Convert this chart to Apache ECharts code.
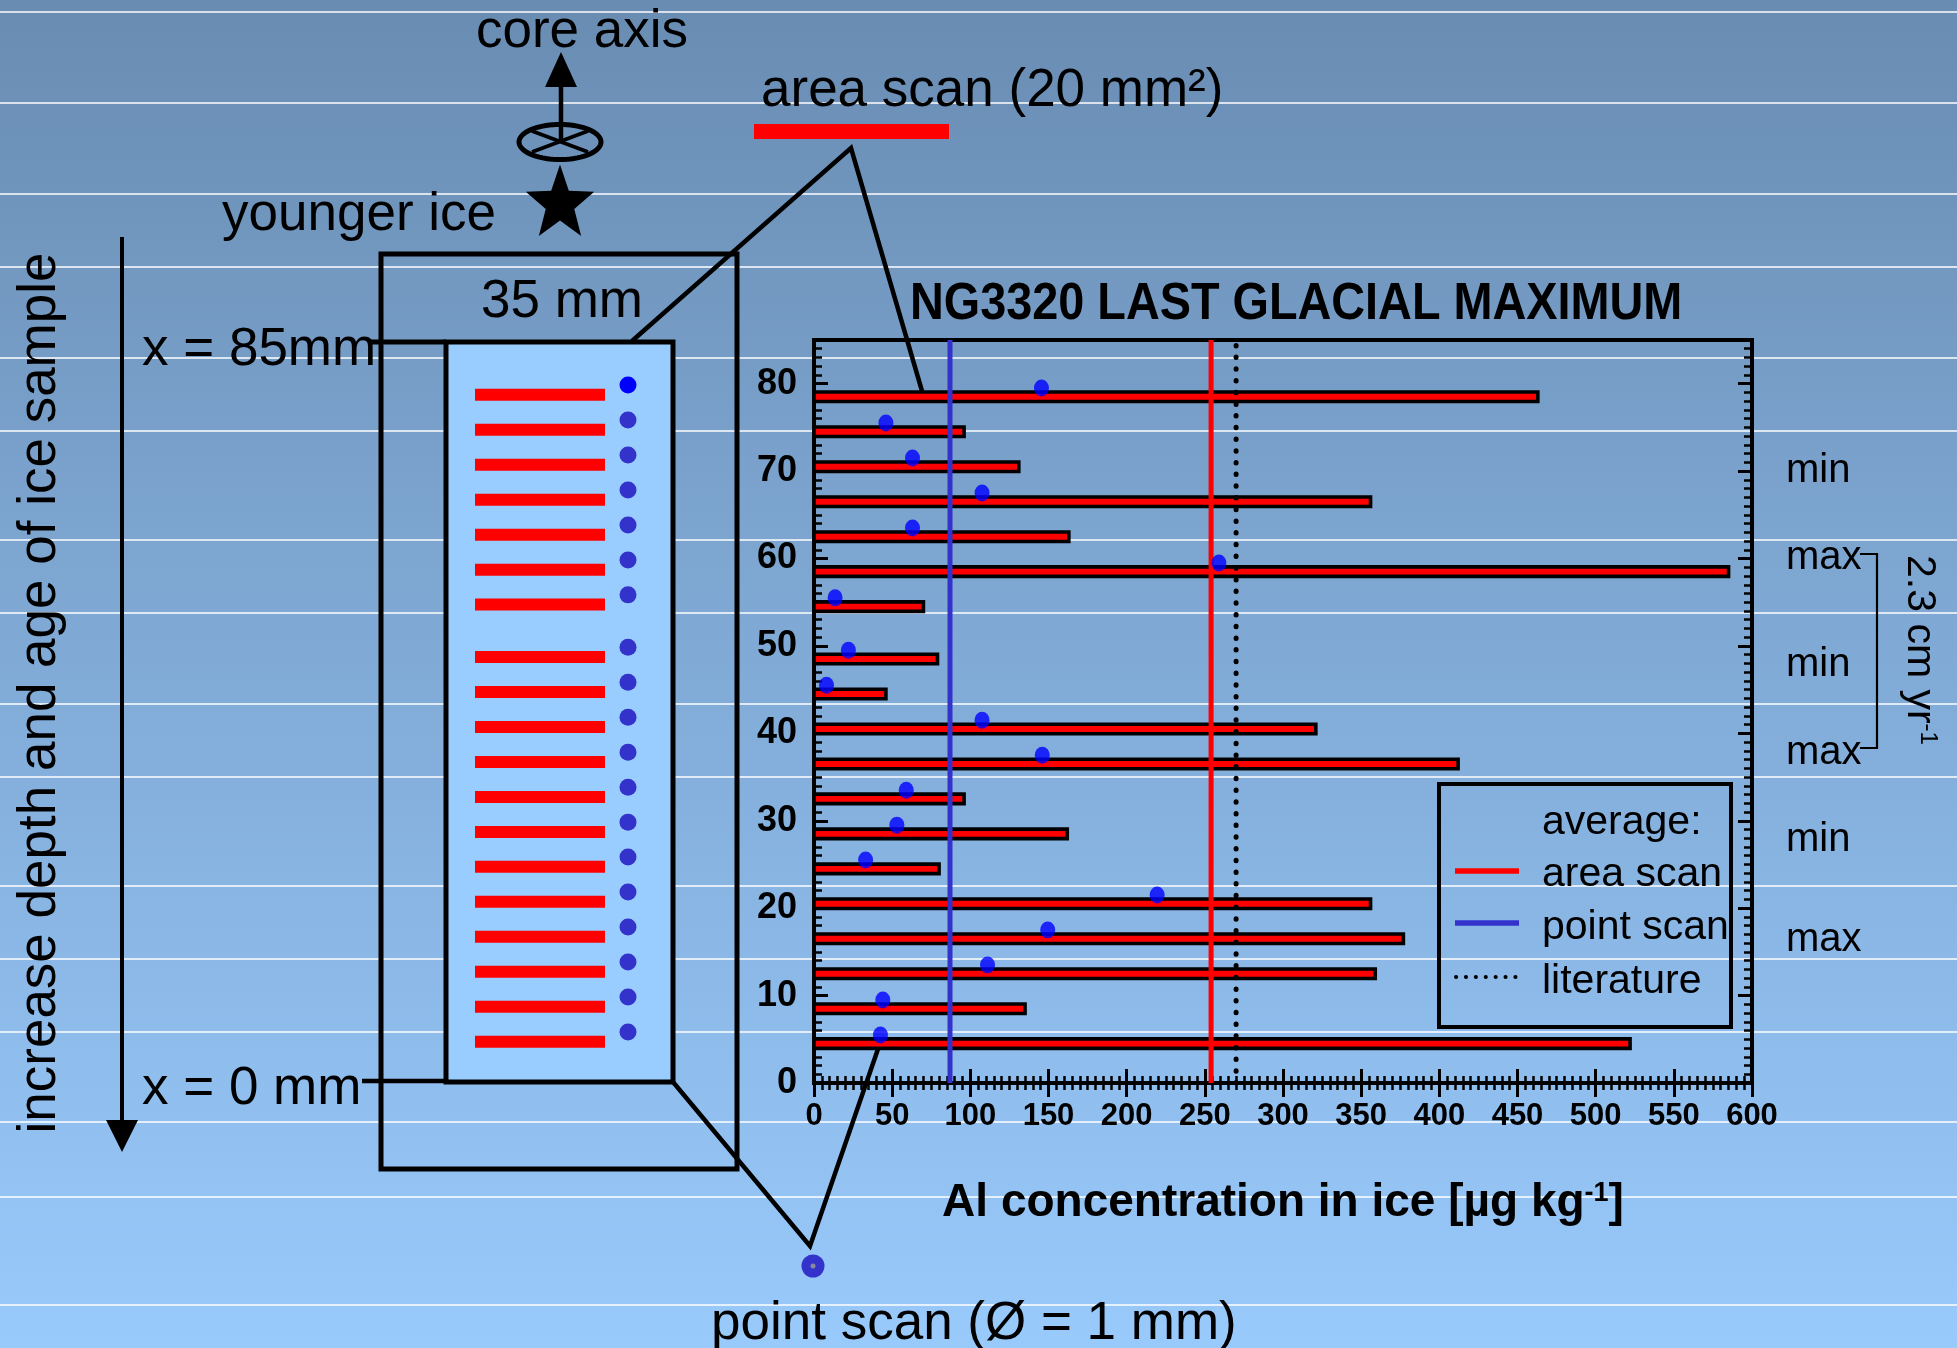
<!DOCTYPE html>
<html>
<head>
<meta charset="utf-8">
<script src="https://cdn.jsdelivr.net/npm/echarts@6/dist/echarts.min.js"></script>
<style>
html,body{margin:0;padding:0;background:#88b4e0;}
#c{width:1957px;height:1348px;}
</style>
</head>
<body>
<div id="c"></div>
<script>
// ---------------- data ----------------
// depth position of each area-scan line (mm along the sample)
const depth = [78.5, 74.5, 70.5, 66.5, 62.5, 58.5, 54.5, 48.5, 44.5, 40.5, 36.5, 32.5, 28.5, 24.5, 20.5, 16.5, 12.5, 8.5, 4.5];
// Al concentration from area scans (µg/kg)
const areaScan = [463, 96, 131, 356, 163, 585, 70, 79, 46, 321, 412, 96, 162, 80, 356, 377, 359, 135, 522];
// depth position of each point scan
const pointDepth = [79.5, 75.5, 71.5, 67.5, 63.5, 59.5, 55.5, 49.5, 45.5, 41.5, 37.5, 33.5, 29.5, 25.5, 21.5, 17.5, 13.5, 9.5, 5.5];
// Al concentration from point scans (µg/kg)
const pointScan = [145.5, 46, 63, 107.5, 63, 259, 13.5, 22, 8, 107.5, 146, 59, 53, 33, 219.5, 149.5, 111, 44, 42.5];
// averages
const avgAreaScan = 254;
const avgPointScan = 87;
const avgLiterature = 270;
// axis settings
const xMin = 0, xMax = 600, xStep = 50;
const yMin = 0, yMax = 85, yStep = 10;
// right-hand annotations
const phaseLabels = ['min', 'max', 'min', 'max', 'min', 'max'];

// ---------------- layout / style constants ----------------
const FONT = '"Liberation Sans", Arial, Helvetica, sans-serif';
const W = 1957, H = 1348;
const BG_LINES = [12, 103, 194, 267, 358, 431, 540, 613, 704, 777, 886, 959, 1032, 1122, 1197, 1305];
const PHASE_Y = [471, 558, 665, 753, 840, 940];
const TXT = 53;

const chart = echarts.init(document.getElementById('c'), null, {renderer: 'canvas', width: W, height: H});

function text(x, y, str, size, extra) {
  const el = {
    type: 'text', x: x, y: y, z: 30, silent: true,
    style: {text: str, fontSize: size, fontFamily: FONT, fill: '#000', align: 'left', verticalAlign: 'middle'}
  };
  if (extra) {
    if (extra.style) Object.assign(el.style, extra.style);
    Object.keys(extra).forEach(k => { if (k !== 'style') el[k] = extra[k]; });
  }
  return el;
}
function line(x1, y1, x2, y2, w, extra) {
  return Object.assign({type: 'line', z: 25, silent: true, shape: {x1, y1, x2, y2},
    style: {stroke: '#000', lineWidth: w || 4.5, lineCap: 'butt'}}, extra || {});
}

const els = [];
// background gradient
els.push({type: 'rect', z: -100, silent: true, shape: {x: 0, y: 0, width: W, height: H},
  style: {fill: new echarts.graphic.LinearGradient(0, 0, 0, 1, [
    {offset: 0, color: '#698cb2'}, {offset: 1, color: '#99cafc'}])}});
BG_LINES.forEach(y => els.push({type: 'line', z: -99, silent: true,
  shape: {x1: 0, y1: y, x2: W, y2: y}, style: {stroke: '#ffffff', lineWidth: 1.6}}));

// left depth arrow + text
els.push(line(122, 237, 122, 1125, 4));
els.push({type: 'polygon', z: 25, silent: true, shape: {points: [[106, 1120], [138, 1120], [122, 1152]]}, style: {fill: '#000'}});
els.push(text(40, 693, 'increase depth and age of ice sample', 53, {rotation: Math.PI / 2, style: {align: 'center'}}));

// core axis symbol
els.push(line(561, 80, 561, 142, 4.5));
els.push({type: 'polygon', z: 25, silent: true, shape: {points: [[545, 87], [577, 87], [561, 52]]}, style: {fill: '#000'}});
(function () {
  const pts = [];
  for (let k = 0; k < 72; k++) {
    const a = k / 72 * Math.PI * 2;
    pts.push([560 + 41 * Math.cos(a), 142 + 17.5 * Math.sin(a)]);
  }
  els.push({type: 'polygon', z: 25, silent: true, shape: {points: pts}, style: {fill: null, stroke: '#000', lineWidth: 5}});
  const star = [];
  for (let k = 0; k < 10; k++) {
    const a = -Math.PI / 2 + k * Math.PI / 5;
    const r = k % 2 === 0 ? 36 : 15;
    star.push([560 + r * Math.cos(a), 204 + r * Math.sin(a) * 1.1]);
  }
  els.push({type: 'polygon', z: 25, silent: true, shape: {points: star}, style: {fill: '#000'}});
})();
els.push(line(532, 152, 588, 131, 4));
els.push(line(532, 131, 588, 152, 4));
els.push(text(582, 32, 'core axis', TXT, {style: {align: 'center'}}));
els.push(text(222, 215, 'younger ice', TXT));

// area scan legend / connector
els.push(text(761, 91, 'area scan (20 mm²)', TXT));
els.push({type: 'rect', z: 25, silent: true, shape: {x: 754, y: 124, width: 195, height: 15}, style: {fill: '#ff0000'}});
els.push({type: 'polyline', z: 25, silent: true, shape: {points: [[632, 341], [851, 148], [922, 391]]},
  style: {stroke: '#000', lineWidth: 4.5, fill: null, lineJoin: 'miter'}});

// sample boxes
els.push({type: 'rect', z: 24, silent: true, shape: {x: 381, y: 254, width: 356, height: 915}, style: {fill: null, stroke: '#000', lineWidth: 5}});
els.push({type: 'rect', z: 1, silent: true, shape: {x: 446, y: 342, width: 227, height: 740}, style: {fill: '#99ccff', stroke: '#000', lineWidth: 5}});
els.push(line(370, 342, 446, 342, 5));
els.push(line(362, 1081, 446, 1081, 4.5));
els.push(text(142, 350, 'x = 85mm', TXT));
els.push(text(142, 1089, 'x = 0 mm', TXT));
els.push(text(562, 302, '35 mm', TXT, {style: {align: 'center'}}));

// point scan connector
els.push({type: 'polyline', z: 25, silent: true, shape: {points: [[673, 1082], [810, 1246], [878, 1049]]},
  style: {stroke: '#000', lineWidth: 4.5, fill: null, lineJoin: 'miter'}});
els.push({type: 'circle', z: 25, silent: true, shape: {cx: 813, cy: 1266, r: 11.5}, style: {fill: '#3333cc'}});
els.push({type: 'circle', z: 26, silent: true, shape: {cx: 813, cy: 1266, r: 2.5}, style: {fill: '#8a8a9a'}});
els.push(text(711, 1324, 'point scan (Ø = 1 mm)', TXT));

// title
els.push(text(910, 305, 'NG3320 LAST GLACIAL MAXIMUM', 52, {scaleX: 0.9, style: {fontWeight: 'bold'}}));

// legend box
els.push({type: 'rect', z: 25, silent: true, shape: {x: 1439, y: 784, width: 292, height: 243}, style: {fill: null, stroke: '#000', lineWidth: 4}});
els.push(text(1542, 823, 'average:', 41));
els.push(text(1542, 875, 'area scan', 41));
els.push(text(1542, 928, 'point scan', 41));
els.push(text(1542, 982, 'literature', 41));
els.push(line(1455, 871, 1519, 871, 5.5, {style: {stroke: '#ff0000', lineWidth: 5.5}}));
els.push(line(1455, 923, 1519, 923, 5.5, {style: {stroke: '#3333cc', lineWidth: 5.5}}));
els.push(line(1456, 977, 1516, 977, 4, {style: {stroke: '#000', lineWidth: 4, lineDash: [0.1, 9.8], lineCap: 'round'}}));

// min / max annotations
phaseLabels.forEach((t, i) => els.push(text(1786, PHASE_Y[i], t, 40)));
els.push({type: 'polyline', z: 25, silent: true, shape: {points: [[1860, 554], [1877, 554], [1877, 748], [1860, 748]]},
  style: {stroke: '#000', lineWidth: 2.2, fill: null}});
els.push({type: 'text', z: 30, silent: true, x: 1919, y: 650, rotation: -Math.PI / 2,
  style: {text: '{n|2.3 cm yr}{s|-1}', align: 'center', verticalAlign: 'middle', fill: '#000',
    rich: {n: {fontSize: 41, fontFamily: FONT, fill: '#000'}, s: {fontSize: 24, fontFamily: FONT, fill: '#000', verticalAlign: 'top'}}}});

// ---------------- axes ----------------
const tickStyle = {color: '#000', width: 3};
const minorStyle = {color: '#000', width: 2.5};
function xAxisDef(pos, withLabels) {
  return {
    type: 'value', gridIndex: 0, position: pos, min: xMin, max: xMax, interval: xStep,
    axisLine: {show: false},
    axisTick: {show: true, inside: true, length: 14, lineStyle: tickStyle},
    minorTick: {show: true, splitNumber: 10, length: 7, lineStyle: minorStyle},
    splitLine: {show: false}, minorSplitLine: {show: false},
    axisLabel: {show: withLabels, fontSize: 31, fontWeight: 'bold', fontFamily: FONT, color: '#000', margin: 18},
    name: withLabels ? '{a|Al concentration in ice [µg kg}{s|-1}{a|]}' : '',
    nameLocation: 'middle', nameGap: 97,
    nameTextStyle: {rich: {
      a: {fontSize: 46, fontWeight: 'bold', fontFamily: FONT, color: '#000'},
      s: {fontSize: 27, fontWeight: 'bold', fontFamily: FONT, color: '#000', verticalAlign: 'top'}}}
  };
}
function yAxisDef(pos, major) {
  return {
    type: 'value', gridIndex: 0, position: pos, min: yMin, max: yMax, interval: major ? yStep : 1,
    axisLine: {show: false},
    axisTick: {show: true, inside: true, length: major ? 14 : 8, lineStyle: major ? tickStyle : minorStyle},
    splitLine: {show: false},
    axisLabel: {show: major && pos === 'left', showMaxLabel: false, fontSize: 36, fontWeight: 'bold', fontFamily: FONT, color: '#000', margin: 17}
  };
}

const option = {
  animation: false,
  backgroundColor: 'transparent',
  textStyle: {fontFamily: FONT},
  grid: {left: 814, right: 205, top: 340, bottom: 265, show: true, borderColor: '#000', borderWidth: 4,
    backgroundColor: 'transparent', containLabel: false, outerBoundsMode: 'none'},
  xAxis: [xAxisDef('bottom', true), xAxisDef('top', false)],
  yAxis: [yAxisDef('left', true), yAxisDef('left', false), yAxisDef('right', true), yAxisDef('right', false)],
  graphic: {elements: els},
  series: [
    {
      type: 'custom', name: 'area scan', xAxisIndex: 0, yAxisIndex: 0, z: 3, clip: false, silent: true,
      data: depth.map((d, i) => [areaScan[i], d]), encode: {x: 0, y: 1},
      renderItem: function (params, api) {
        const a = api.coord([0, api.value(1)]);
        const b = api.coord([api.value(0), api.value(1)]);
        const h = 9.5;
        return {type: 'rect', shape: {x: a[0], y: a[1] - h / 2, width: b[0] - a[0], height: h},
          style: {fill: '#ff0000', stroke: '#000', lineWidth: 3.6}};
      }
    },
    {
      type: 'line', name: 'avg point scan', xAxisIndex: 0, yAxisIndex: 0, z: 4, silent: true, symbol: 'none',
      data: [[avgPointScan, yMin], [avgPointScan, yMax]], lineStyle: {color: '#3333cc', width: 5}
    },
    {
      type: 'line', name: 'avg area scan', xAxisIndex: 0, yAxisIndex: 0, z: 4, silent: true, symbol: 'none',
      data: [[avgAreaScan, yMin], [avgAreaScan, yMax]], lineStyle: {color: '#ff0000', width: 5}
    },
    {
      type: 'line', name: 'literature', xAxisIndex: 0, yAxisIndex: 0, z: 4, silent: true, symbol: 'none',
      data: [[avgLiterature, yMin], [avgLiterature, yMax]], lineStyle: {color: '#000', width: 5, type: [0.5, 11.2], cap: 'round'}
    },
    {
      type: 'scatter', name: 'point scan', xAxisIndex: 0, yAxisIndex: 0, z: 5, silent: true,
      symbol: 'circle', symbolSize: [15, 17], itemStyle: {color: '#0000ff'},
      data: pointScan.map((v, i) => [v, pointDepth[i]])
    },
    {
      // schematic of the sample: area scan stripes at the same depths
      type: 'custom', name: 'sample stripes', xAxisIndex: 0, yAxisIndex: 0, z: 3, clip: false, silent: true,
      data: depth.map(d => [0, d]), encode: {x: 0, y: 1},
      renderItem: function (params, api) {
        const y = api.coord([0, api.value(1)])[1];
        return {type: 'rect', shape: {x: 475, y: y - 8, width: 130, height: 12}, style: {fill: '#ff0000'}};
      }
    },
    {
      type: 'custom', name: 'sample points', xAxisIndex: 0, yAxisIndex: 0, z: 3, clip: false, silent: true,
      data: pointDepth.map(d => [0, d]), encode: {x: 0, y: 1},
      renderItem: function (params, api) {
        const y = api.coord([0, api.value(1)])[1];
        return {type: 'circle', shape: {cx: 628, cy: y - 3, r: 8.5},
          style: {fill: params.dataIndex === 0 ? '#0000ff' : '#3333cc'}};
      }
    }
  ]
};
chart.setOption(option);
</script>
</body>
</html>
